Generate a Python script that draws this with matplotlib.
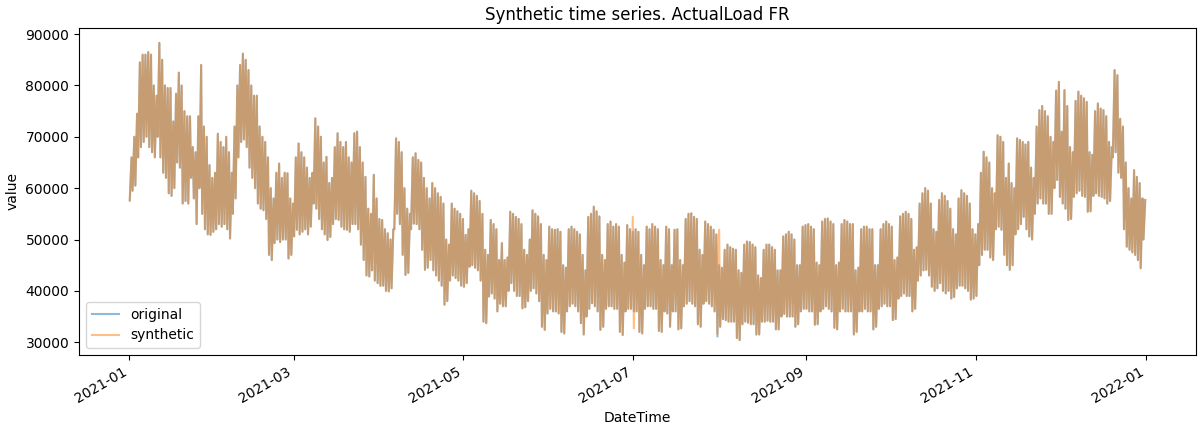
import numpy as np
import pandas as pd
import matplotlib
matplotlib.use("Agg")
import matplotlib.pyplot as plt
import matplotlib.dates as mdates

# Daily peak / trough load (thousands of MW), 2021-01-01 .. 2021-12-31
daily_high = [
    66, 70, 74.5, 84.5, 86, 86, 86.5,
    86, 80, 78, 88.3, 85, 80, 79.5,
    79.5, 73, 78.4, 82.5, 80, 75, 74,
    74, 68, 67, 74, 84, 72, 70,
    64.5, 62, 63, 70.6, 69, 68, 70,
    67, 63, 72, 80, 84, 86.2, 85,
    83, 80, 78, 78, 72, 70, 69,
    66, 60, 58, 63, 64.8, 62, 63,
    62.9, 58, 57, 66, 68.7, 67, 66,
    64, 62, 63, 73.6, 72, 70, 65,
    66.1, 61, 62, 68, 70.7, 69, 68,
    69, 66, 65, 70.7, 71, 68, 65,
    62.2, 56, 55, 62.6, 58, 54, 53.8,
    52, 51.2, 50, 52, 69.7, 69, 67,
    60, 56, 55, 66, 66.8, 65.5, 65,
    62, 60, 58, 61, 60, 59, 58.3,
    57, 50, 49, 57, 56, 55.5, 55,
    54, 50.9, 52, 59.5, 59, 58.5, 57.5,
    55, 48, 47, 53.8, 53, 52, 46,
    49.3, 46, 46.5, 55.4, 55, 54.4, 54,
    53, 48, 47, 50, 55.7, 55, 54.5,
    53, 47, 46, 52.5, 52, 51.9, 52,
    51.5, 45, 44.5, 52, 52.5, 52, 51.5,
    51, 47, 44, 54.4, 55, 56.4, 55.5,
    54.5, 47, 46, 53, 53.5, 52.5, 53,
    52.5, 47, 45.5, 52.8, 52, 51.5, 52,
    51.5, 47, 45, 52.5, 52, 53, 52.5,
    52, 46, 45, 52.5, 52, 45, 51.9,
    52, 46, 45, 54, 55, 55.1, 54.4,
    54, 48, 47, 53.5, 53, 52.5, 51.9,
    51, 45, 44.5, 48, 49, 48.5, 48.2,
    48, 44, 43.5, 49, 49.6, 49.5, 49,
    48.5, 43, 42.5, 48, 49, 49, 48.5,
    48, 44, 44, 50.6, 51, 51.5, 51,
    50, 45, 45, 52.5, 52.8, 53, 52.5,
    52, 45.5, 45, 53.5, 54, 54.1, 53.5,
    53, 45, 45.5, 53, 53.8, 53.5, 53,
    53, 44, 44.5, 52, 52.5, 52.5, 52,
    52, 45, 45, 52, 53, 53.5, 53,
    52.5, 46, 46.5, 54.5, 55, 55.4, 55,
    54, 48, 48.5, 57, 59, 60, 59.5,
    57, 52, 51.5, 57.7, 59, 58.5, 57.5,
    56, 52, 51, 58, 59.6, 59, 58.5,
    57, 52, 51, 53, 63, 67.1, 66,
    65, 60, 59, 70.3, 70, 69, 62,
    64.8, 61, 60, 69.7, 69.4, 69, 68.5,
    69, 64, 62, 72, 75.2, 76, 75,
    74, 70, 69, 79, 80.7, 71, 79.1,
    76, 68, 67, 77, 78.8, 78, 77.5,
    76.8, 67, 66.5, 75, 76.5, 75.5, 75.2,
    74, 69, 68, 83, 82, 73.5, 72,
    65, 60, 58, 63.5, 62.2, 61, 58,
    57.7,
]
daily_low = [
    57.6, 59.5, 60.5, 66, 68, 69, 70,
    68, 67, 66, 70, 66, 63, 62,
    59, 58.5, 60, 65, 64, 57, 57.5,
    57, 62, 58, 53, 60, 55, 52,
    51, 50.9, 51.5, 52, 53, 52.5, 53,
    52, 50.2, 55, 58, 66, 69, 69.5,
    68, 64, 62, 60, 57, 56, 55.7,
    54, 47, 46, 49.3, 50, 49.5, 50,
    50, 46.3, 47, 50.6, 51.9, 51, 51.5,
    52, 51, 52.5, 57, 56, 54, 52,
    51, 49.9, 50.5, 53, 54, 53.8, 52.5,
    52, 51.9, 51.5, 53, 53, 52, 49,
    46, 43, 42.8, 44, 42, 41.5, 41,
    41, 40, 39.9, 40.5, 52, 55, 53,
    47, 43.1, 43.5, 52, 53.1, 53, 52,
    48, 44.1, 44.5, 46, 44, 43, 42,
    41, 37.3, 38, 42, 43, 42.5, 42,
    41, 40.8, 41.5, 44.7, 45, 44.5, 44,
    42, 34, 33.7, 38.9, 39.5, 38.5, 36,
    37.5, 37, 37, 40, 41.5, 40, 39,
    39, 36.6, 36.8, 38, 40, 40.5, 39.5,
    38, 33, 32.4, 35.6, 36.5, 36, 36,
    35.6, 32, 31.7, 36, 37, 37.5, 37,
    36, 33.7, 31.5, 35, 36.5, 37.6, 37,
    36, 32.4, 33, 36.5, 37, 37, 36.5,
    36.5, 32, 31.4, 36, 36.5, 36.5, 36,
    36, 32, 31.7, 36.5, 37, 37, 36.5,
    36.5, 32.2, 32, 36, 35.6, 33, 36,
    36, 32.5, 32.7, 37, 37.5, 38, 37.5,
    37, 33.5, 33, 37.5, 38, 37.5, 37,
    36, 31.1, 33, 34.5, 34.3, 34, 34,
    34, 30.8, 30.4, 33.5, 34, 33.8, 33.5,
    33.5, 31.5, 31.5, 34, 34, 34.2, 34,
    34, 32.5, 32.5, 35, 35.5, 35, 35,
    35, 33, 33.5, 36, 36.5, 36.5, 36,
    36, 33.4, 33.5, 36, 36.5, 37, 36.5,
    36, 32.8, 32.5, 36, 36.5, 36, 36,
    36, 31.5, 32, 36, 36, 36.5, 36,
    36, 32.5, 33, 36.5, 37, 37.5, 37,
    37, 34.3, 34.5, 38.5, 39, 39.5, 39,
    39, 36, 36.5, 42, 43, 44, 44.1,
    43, 40.8, 40, 40.5, 41.5, 40, 39.5,
    40, 38.5, 38.8, 40.5, 41, 41, 40.5,
    40, 38.3, 38.5, 39, 45, 47, 48,
    48, 46.5, 46, 52, 52.5, 51.9, 47,
    45, 44.1, 45, 51, 52, 53, 54.4,
    52, 50.6, 50, 55, 57, 58, 57,
    57, 55, 55, 60, 61.6, 58.3, 57,
    56, 53.8, 54, 58.3, 59, 59.5, 58.5,
    58.3, 55.4, 55.5, 58.5, 59, 58.5, 58.3,
    58, 57, 57.5, 66, 67, 63, 62,
    52, 48.6, 48, 47.5, 47, 46, 44.4,
    50,
]
# Days where the synthetic series departs from the original (day index: value, thousands)
synthetic_high_diff = {180: 54.4, 211: 51.9}
synthetic_low_diff = {181: 32.7, 211: 31.6}

start = pd.Timestamp("2021-01-01")
days = pd.date_range(start, periods=len(daily_high), freq="D")


def build_series(high, low):
    times, vals = [], []
    for d, h, l in zip(days, high, low):
        times.append(d + pd.Timedelta(hours=4))
        vals.append(l * 1000)
        times.append(d + pd.Timedelta(hours=19))
        vals.append(h * 1000)
    return pd.Series(vals, index=pd.DatetimeIndex(times))


orig = build_series(daily_high, daily_low)
syn_high = list(daily_high)
syn_low = list(daily_low)
for k, v in synthetic_high_diff.items():
    syn_high[k] = v
for k, v in synthetic_low_diff.items():
    syn_low[k] = v
syn = build_series(syn_high, syn_low)

fig = plt.figure(figsize=(11.98, 4.25), dpi=100)
ax = fig.add_axes([79 / 1198, 1 - 355 / 425, (1196 - 79) / 1198, (355 - 28) / 425])
ax.plot(orig.index, orig.values, color="#1f77b4", alpha=0.5, lw=1.5, label="original")
ax.plot(syn.index, syn.values, color="#ff7f0e", alpha=0.5, lw=1.5, label="synthetic")

ax.xaxis.set_major_locator(mdates.MonthLocator(bymonth=[1, 3, 5, 7, 9, 11]))
ax.xaxis.set_major_formatter(mdates.DateFormatter("%Y-%m"))
ax.xaxis.set_minor_locator(mdates.MonthLocator())
ax.tick_params(axis="x", which="minor", length=0)
for lbl in ax.get_xticklabels():
    lbl.set_rotation(30)
    lbl.set_ha("right")

ax.set_title("Synthetic time series. ActualLoad FR")
ax.set_xlabel("DateTime")
ax.set_ylabel("value")
ax.legend(loc="lower left")

fig.savefig("out.png", dpi=100)
